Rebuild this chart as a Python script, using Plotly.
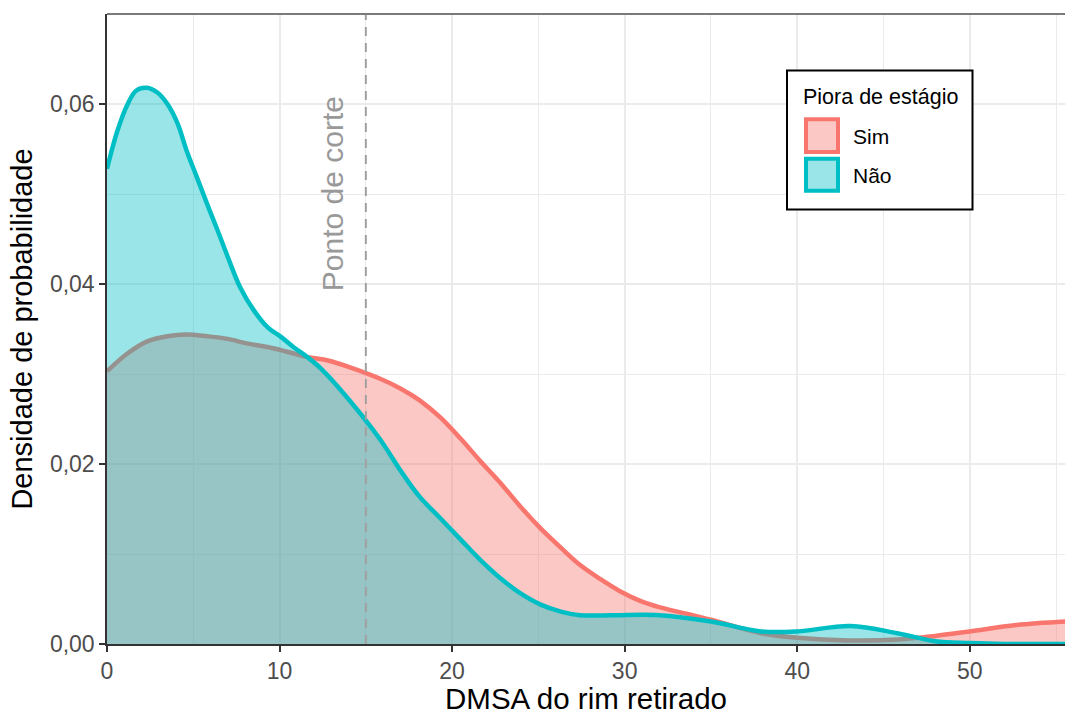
import plotly.graph_objects as go

# ---------------- data ----------------
sim_x = [0, 1.2, 2.3, 3.5, 4.6, 5.8, 7.0, 8.1, 9.3, 10.4, 11.6, 12.8, 14, 15.8, 17,
         18.1, 19.3, 20.5, 21.6, 22.8, 23.9, 25.1, 26.3, 27.4, 28.6, 29.7, 30.9, 32,
         33.5, 35, 37.9, 40, 43, 45.8, 48, 50, 52.7, 55.6]
sim_y = [0.0303, 0.0323, 0.0336, 0.0342, 0.0344, 0.0342, 0.0339, 0.0334, 0.0330,
         0.0325, 0.0319, 0.0315, 0.0308, 0.0295, 0.0284, 0.0271, 0.0252, 0.0228,
         0.0204, 0.0179, 0.0154, 0.0129, 0.0107, 0.0088, 0.0072, 0.0059, 0.0048,
         0.0041, 0.0034, 0.0027, 0.0012, 0.0007, 0.0004, 0.0005, 0.0009, 0.0014,
         0.0021, 0.0025]

nao_x = [0, 0.6, 1.2, 1.7, 2.3, 2.9, 3.5, 4.1, 4.6, 5.2, 5.8, 6.4, 7.0, 7.7, 8.5,
         9.3, 10.1, 10.8, 11.6, 12.4, 14, 15.8, 17, 18.1, 19.3, 20.5, 21.6, 22.8,
         23.9, 25.1, 26.3, 27.4, 29.3, 32, 35, 37.9, 40, 43.1, 45.8, 48, 50, 52, 55.6]
nao_y = [0.0528, 0.0570, 0.0600, 0.0615, 0.0618, 0.0613, 0.0600, 0.0578, 0.0549,
         0.0519, 0.0489, 0.0460, 0.0430, 0.0397, 0.0371, 0.0352, 0.0341, 0.0330,
         0.0319, 0.0306, 0.0272, 0.0228, 0.0193, 0.0164, 0.0140, 0.0116, 0.0094,
         0.0073, 0.0057, 0.0044, 0.0036, 0.0032, 0.0032, 0.0032, 0.0025, 0.0014,
         0.0014, 0.0020, 0.0012, 0.0003, 0.0001, 0.0, 0.0]

cutoff = 15
cutoff_label = "Ponto de corte"
groups = ["Sim", "Não"]
legend_title = "Piora de estágio"
x_title = "DMSA do rim retirado"
y_title = "Densidade de probabilidade"
x_ticks = [0, 10, 20, 30, 40, 50]
y_ticks = [0.00, 0.02, 0.04, 0.06]
x_range = [0, 55.52]
y_range = [0, 0.07]

# ---------------- styling ----------------
W, H = 1065, 715
ML, MR, MT, MB = 107, 0, 14, 71
RED, CYAN = "#F8766D", "#00BFC4"
RED_FILL, CYAN_FILL = "rgba(248,118,109,0.4)", "rgba(0,191,196,0.4)"
FONT = "Liberation Sans, Arial, sans-serif"
GRID = "#EBEBEB"

pw, ph = W - ML - MR, H - MT - MB


def px2paper(px, py):
    return (px - ML) / pw, (H - MB - py) / ph


fig = go.Figure()
fig.add_trace(go.Scatter(x=sim_x, y=sim_y, mode="lines", fill="tozeroy",
                         fillcolor=RED_FILL, line=dict(color=RED, width=4.5, shape="spline", smoothing=1.0),
                         name=groups[0], showlegend=False, hoverinfo="skip"))
fig.add_trace(go.Scatter(x=nao_x, y=nao_y, mode="lines", fill="tozeroy",
                         fillcolor=CYAN_FILL, line=dict(color=CYAN, width=4.5, shape="spline", smoothing=1.0),
                         name=groups[1], showlegend=False, hoverinfo="skip"))
fig.add_trace(go.Scatter(x=[cutoff, cutoff], y=y_range, mode="lines",
                         line=dict(color="#A0A0A0", width=2, dash="9px,7px"),
                         showlegend=False, hoverinfo="skip"))

fig.add_annotation(x=13.05, y=0.05, xref="x", yref="y", text=cutoff_label, textangle=-90,
                   showarrow=False, font=dict(family=FONT, size=30, color="#999999"),
                   xanchor="center", yanchor="middle")

# panel top border
fig.add_shape(type="line", xref="paper", yref="paper", x0=0, x1=1, y0=1, y1=1,
              line=dict(color="#7A7A7A", width=2))

# manual legend
bx0, by0 = px2paper(787, 209.5)
bx1, by1 = px2paper(972.5, 70.5)
fig.add_shape(type="rect", xref="paper", yref="paper", x0=bx0, x1=bx1, y0=by0, y1=by1,
              line=dict(color="black", width=2), fillcolor="white")
keys = [(RED, RED_FILL, 119.3, 152.0), (CYAN, CYAN_FILL, 158.7, 190.7)]
for (lc, fc, ytop, ybot), lab in zip(keys, groups):
    kx0, ky0 = px2paper(806, ybot)
    kx1, ky1 = px2paper(838, ytop)
    fig.add_shape(type="rect", xref="paper", yref="paper", x0=kx0, x1=kx1, y0=ky0, y1=ky1,
                  line=dict(color=lc, width=4), fillcolor=fc)
    tx, ty = px2paper(851, (ytop + ybot) / 2 + 1)
    fig.add_annotation(x=tx, y=ty, xref="paper", yref="paper", text=lab, showarrow=False,
                       xanchor="left", yanchor="middle",
                       font=dict(family=FONT, size=21, color="black"))
tx, ty = px2paper(801, 97)
fig.add_annotation(x=tx, y=ty, xref="paper", yref="paper", text=legend_title, showarrow=False,
                   xanchor="left", yanchor="middle", font=dict(family=FONT, size=21.5, color="black"))

axis_common = dict(showline=True, linecolor="#333333", linewidth=1.5,
                   ticks="outside", ticklen=6, tickwidth=1.5, tickcolor="#333333",
                   showgrid=True, gridcolor=GRID, gridwidth=2, zeroline=False,
                   tickfont=dict(family=FONT, size=23, color="#4D4D4D"))

fig.update_xaxes(range=x_range, tickvals=x_ticks,
                 minor=dict(dtick=5, tick0=0, showgrid=True, gridcolor=GRID, gridwidth=1.4, ticks=""),
                 title=dict(text=x_title, font=dict(family=FONT, size=29.5, color="black"), standoff=5),
                 **axis_common)
fig.update_yaxes(range=y_range, tickvals=y_ticks, tickformat=".2f",
                 minor=dict(dtick=0.01, tick0=0, showgrid=True, gridcolor=GRID, gridwidth=1.4, ticks=""),
                 title=dict(text=y_title, font=dict(family=FONT, size=29, color="black"), standoff=9),
                 **axis_common)

fig.update_layout(width=W, height=H, margin=dict(l=ML, r=MR, t=MT, b=MB, autoexpand=False),
                  plot_bgcolor="white", paper_bgcolor="white", separators=",.",
                  font=dict(family=FONT), showlegend=False)

fig.write_html("out.html", config={"displayModeBar": False},
               post_script="document.body.style.margin='0px';")
